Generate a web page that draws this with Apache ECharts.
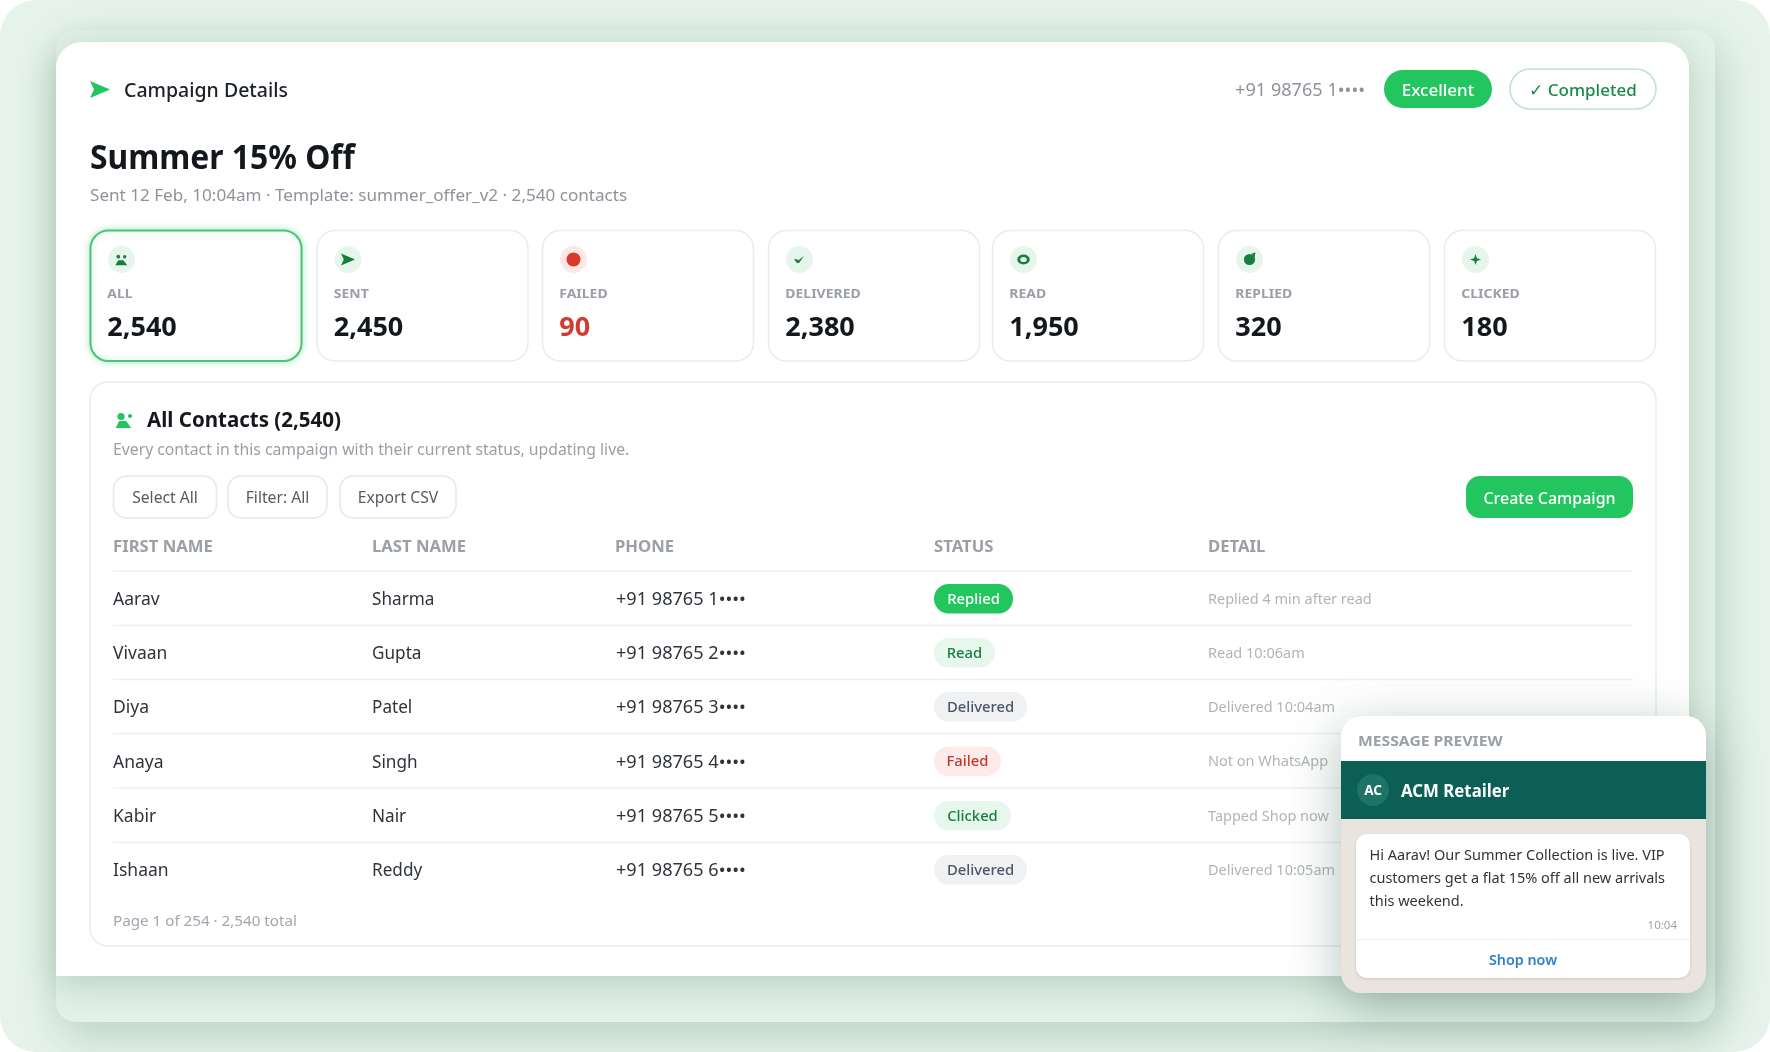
<!DOCTYPE html>
<html>
<head>
<meta charset="utf-8">
<title>Campaign Details</title>
<style>html,body{margin:0;padding:0;background:#fff}#c{width:1770px;height:1052px}</style>
<script src="https://cdn.jsdelivr.net/npm/echarts@6/dist/echarts.min.js"></script>
</head>
<body>
<div id="c"></div>
<script>
// ---- data ----
const pageLabel = 'Campaign Details';
const campaignName = 'Summer 15% Off';
const campaignMeta = 'Sent 12 Feb, 10:04am · Template: summer_offer_v2 · 2,540 contacts';
const headerPhone = '+91 98765 1••••';
const qualityLabel = 'Excellent';
const stateLabel = '✓ Completed';
const statLabels = ['ALL','SENT','FAILED','DELIVERED','READ','REPLIED','CLICKED'];
const statValues = ['2,540','2,450','90','2,380','1,950','320','180'];
const contactsTitle = 'All Contacts (2,540)';
const contactsSub = 'Every contact in this campaign with their current status, updating live.';
const toolbarLabels = ['Select All','Filter: All','Export CSV'];
const createLabel = 'Create Campaign';
const columnLabels = ['FIRST NAME','LAST NAME','PHONE','STATUS','DETAIL'];
const firstNames = ['Aarav','Vivaan','Diya','Anaya','Kabir','Ishaan'];
const lastNames = ['Sharma','Gupta','Patel','Singh','Nair','Reddy'];
const phones = ['+91 98765 1••••','+91 98765 2••••','+91 98765 3••••','+91 98765 4••••','+91 98765 5••••','+91 98765 6••••'];
const statuses = ['Replied','Read','Delivered','Failed','Clicked','Delivered'];
const details = ['Replied 4 min after read','Read 10:06am','Delivered 10:04am','Not on WhatsApp','Tapped Shop now','Delivered 10:05am'];
const pageNote = 'Page 1 of 254 · 2,540 total';
const previewTitle = 'MESSAGE PREVIEW';
const senderInitials = 'AC';
const senderName = 'ACM Retailer';
const messageLines = ['Hi Aarav! Our Summer Collection is live. VIP','customers get a flat 15% off all new arrivals','this weekend.'];
const messageTime = '10:04';
const messageAction = 'Shop now';

// ---- layout & style ----
const FF = '"Noto Sans","Open Sans",sans-serif';
const GREEN = '#22c55e', DARK = '#15803d', INK = '#14181d';
const cardX = [90.5,317,542.5,768.5,992.5,1218.5,1444.5], cardW = 211;
const colX = [113,372,615,934,1208];
const rowY = [599,653,707,761.5,816,870];
const TEXT_DY = 1.2;
const pillStyle = {
  Replied:{w:79,bg:GREEN,fg:'#ffffff'},
  Read:{w:61,bg:'#e8f7ee',fg:DARK},
  Delivered:{w:93,bg:'#f0f1f3',fg:'#4b5563'},
  Failed:{w:67,bg:'#fdeaea',fg:'#c0392b'},
  Clicked:{w:77,bg:'#e8f7ee',fg:DARK}
};
const E = [];
function rect(x,y,w,h,r,fill,extra){E.push({type:'rect',shape:{x,y,width:w,height:h,r},style:Object.assign({fill},extra||{})});}
function txt(x,y,text,size,weight,fill,align,sx){
  E.push({type:'text',originX:x,originY:y+TEXT_DY,scaleX:sx||1,
    style:{x,y:y+TEXT_DY,text,fill,font:`${weight} ${size}px ${FF}`,textAlign:align||'left',textVerticalAlign:'middle'}});
}
function line(x1,x2,y,color,w){E.push({type:'line',shape:{x1,y1:y,x2,y2:y},style:{stroke:color,lineWidth:w||1}});}
function circ(cx,cy,r,fill){E.push({type:'circle',shape:{cx,cy,r},style:{fill}});}
function poly(points,ox,oy,s,fill){E.push({type:'polygon',shape:{points:points.map(p=>[ox+p[0]*s,oy+p[1]*s])},style:{fill}});}

const SEND = [[0,0],[20,8.5],[0,17],[4,8.5]];
const CHECK = [[0,3.5],[3,3],[4,4.5],[10,0],[5,7],[3,7]];
const STAR = [[6,0],[7.5,4.5],[12,6],[7.5,7.5],[6,12],[4.5,7.5],[0,6],[4.5,4.5]];

// backdrop
rect(0,0,1770,1052,36,'#e6f3ea');
rect(56,30,1659,992,20,'#e3f1e8',{shadowBlur:42,shadowColor:'rgba(30,90,60,0.22)',shadowOffsetY:14,shadowOffsetX:4});
rect(56,42,1633,934,[26,26,0,0],'#ffffff',{shadowBlur:34,shadowColor:'rgba(30,90,60,0.22)',shadowOffsetY:8});

// header
poly(SEND,90,81,1,GREEN);
txt(124,90,pageLabel,19.5,500,'#1c2127');
txt(90,157.8,campaignName,33.5,700,INK,'left',0.95);
txt(90,195,campaignMeta,17.1,400,'#8e939a');
txt(1365,89.5,headerPhone,17.5,400,'#8e939a','right',1.035);
rect(1384,70,108,38,19,GREEN);
txt(1438,89.5,qualityLabel,17,500,'#ffffff','center');
rect(1510,69,146,40,20,'#ffffff',{stroke:'#bfe3cd',lineWidth:1.5});
txt(1583,89.5,stateLabel,17,500,'#1a8a4b','center');

// stat cards
statLabels.forEach((label,i)=>{
  const x = cardX[i], sel = i===0, failed = label==='FAILED';
  rect(x,230.5,cardW,130.5,18,'#ffffff',sel
    ?{stroke:'#4cc27a',lineWidth:2,shadowBlur:7,shadowColor:'rgba(34,197,94,0.35)'}
    :{stroke:'#e9ebee',lineWidth:1.5});
  const cx = x+31, cy = 259.5;
  circ(cx,cy,13.5,failed?'#fbe8e7':'#e7f6ec');
  if(label==='ALL'){
    circ(cx-3.2,cy-2.8,1.9,DARK); circ(cx+3.2,cy-2.8,1.7,DARK);
    poly([[3,0],[8,0],[12,5],[0,5]],cx-6.2,cy+0.8,1,DARK);
  }
  if(label==='SENT') poly(SEND,cx-7,cy-6,0.7,DARK);
  if(failed) circ(cx,cy,7,'#d93a2e');
  if(label==='DELIVERED') poly(CHECK,cx-5.5,cy-3.5,1,DARK);
  if(label==='READ'){
    E.push({type:'ring',shape:{cx,cy,r:5,r0:2.6},originX:cx,originY:cy,scaleX:1.25,style:{fill:DARK}});
  }
  if(label==='REPLIED'){circ(cx,cy,5.6,DARK);poly([[0,0],[4,-1],[3,4]],cx+2,cy-6,1,DARK);}
  if(label==='CLICKED') poly(STAR,cx-5.5,cy-5.5,0.92,DARK);
  txt(x+16.8,293,label,13.2,700,'#9a9ea6','left',1.06);
  txt(x+16.8,327.6,statValues[i],27,700,failed?'#d23c30':INK);
});

// contacts panel
rect(90,382,1566,564,18,'#ffffff',{stroke:'#e9ebee',lineWidth:1.5});
circ(121,416.5,3.6,GREEN); circ(130,416,2.1,GREEN);
poly([[3.5,0],[10.5,0],[15.5,7],[0,7]],115.7,421,1,GREEN);
txt(147,420,contactsTitle,20.5,700,INK);
txt(113,449.5,contactsSub,15.75,400,'#9a9ea6');
[[113.5,103],[228,99],[340,116]].forEach((b,i)=>{
  rect(b[0],476,b[1],42,13,'#ffffff',{stroke:'#e6e8eb',lineWidth:1.5});
  txt(b[0]+b[1]/2,497.8,toolbarLabels[i],15.7,400,'#565c64','center');
});
rect(1466,476,167,42,14,GREEN);
txt(1549.5,497.8,createLabel,16,500,'#ffffff','center');

columnLabels.forEach((c,i)=>txt(colX[i],546.5,c,15.3,700,'#9aa0a6','left',1.09));
line(113,1633,571,'#e8eaed',1.2);
rowY.forEach((y,i)=>{
  if(i<5) line(113,1633,y+26.5,'#eff0f2',1.4);
  txt(colX[0],y,firstNames[i],17.5,400,'#2f343a');
  txt(colX[1],y,lastNames[i],17.5,400,'#2f343a','left',0.98);
  txt(colX[2]+1,y,phones[i],17.5,400,'#2f343a','left',1.035);
  const p = pillStyle[statuses[i]];
  rect(colX[3],y-15,p.w,29.5,14.7,p.bg);
  txt(colX[3]+p.w/2,y-0.6,statuses[i],14.8,500,p.fg,'center');
  txt(colX[4],y-0.7,details[i],14.5,400,'#b0b4b9');
});
txt(113,920.5,pageNote,15.2,400,'#a3a7ad');

// message preview
rect(1341,716,365,277,20,'#e9e4dd',{shadowBlur:52,shadowColor:'rgba(20,70,50,0.34)',shadowOffsetY:14});
rect(1341,716,365,46,[20,20,0,0],'#ffffff');
rect(1341,761,365,58,0,'#0b5f54');
txt(1358,740.5,previewTitle,14,700,'#9aa0a6','left',1.12);
circ(1373,790,16,'#1d7466');
txt(1373,790,senderInitials,13.5,700,'#ffffff','center');
txt(1401,790.5,senderName,17.5,700,'#ffffff','left',0.96);
rect(1356,834,334,144,11,'#ffffff',{shadowBlur:3,shadowColor:'rgba(0,0,0,0.12)',shadowOffsetY:1});
[855,878.5,901].forEach((y,i)=>txt(1369.5,y-0.7,messageLines[i],14.5,400,'#2f343a'));
txt(1677,925,messageTime,11.5,400,'#a0a4a8','right');
line(1356,1690,939.7,'#eceef0',1.2);
txt(1523,959.5,messageAction,14.3,600,'#2f80cc','center');

const campaignChart = echarts.init(document.getElementById('c'),null,{renderer:'canvas',width:1770,height:1052});
campaignChart.setOption({animation:false,backgroundColor:'#ffffff',graphic:{elements:E}});
</script>
</body>
</html>
